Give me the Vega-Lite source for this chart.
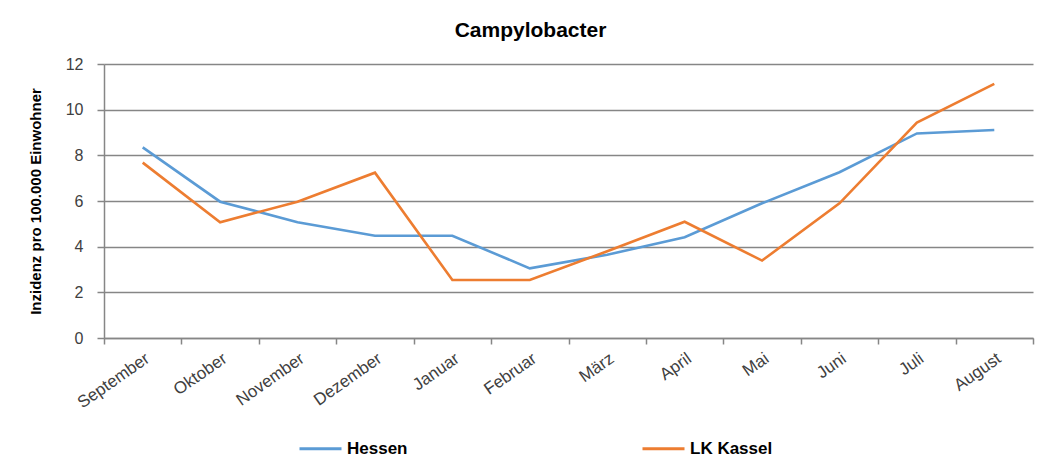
{
  "$schema": "https://vega.github.io/schema/vega-lite/v6.json",
  "width": 929,
  "height": 274,
  "autosize": {"type": "none"},
  "padding": {"left": 104, "top": 64, "right": 17, "bottom": 123},
  "background": "white",
  "title": {
    "text": "Campylobacter",
    "font": "Liberation Sans",
    "fontSize": 21,
    "fontWeight": "bold",
    "color": "#000000",
    "anchor": "middle",
    "dx": -38,
    "offset": 15
  },
  "data": {
    "values": [
      {"Monat": "September", "Region": "Hessen", "Inzidenz": 8.35},
      {"Monat": "Oktober", "Region": "Hessen", "Inzidenz": 5.97},
      {"Monat": "November", "Region": "Hessen", "Inzidenz": 5.07},
      {"Monat": "Dezember", "Region": "Hessen", "Inzidenz": 4.48},
      {"Monat": "Januar", "Region": "Hessen", "Inzidenz": 4.48},
      {"Monat": "Februar", "Region": "Hessen", "Inzidenz": 3.05},
      {"Monat": "März", "Region": "Hessen", "Inzidenz": 3.65},
      {"Monat": "April", "Region": "Hessen", "Inzidenz": 4.41},
      {"Monat": "Mai", "Region": "Hessen", "Inzidenz": 5.9},
      {"Monat": "Juni", "Region": "Hessen", "Inzidenz": 7.26},
      {"Monat": "Juli", "Region": "Hessen", "Inzidenz": 8.96},
      {"Monat": "August", "Region": "Hessen", "Inzidenz": 9.11},
      {"Monat": "September", "Region": "LK Kassel", "Inzidenz": 7.68},
      {"Monat": "Oktober", "Region": "LK Kassel", "Inzidenz": 5.07},
      {"Monat": "November", "Region": "LK Kassel", "Inzidenz": 5.97},
      {"Monat": "Dezember", "Region": "LK Kassel", "Inzidenz": 7.24},
      {"Monat": "Januar", "Region": "LK Kassel", "Inzidenz": 2.54},
      {"Monat": "Februar", "Region": "LK Kassel", "Inzidenz": 2.54},
      {"Monat": "März", "Region": "LK Kassel", "Inzidenz": 3.8},
      {"Monat": "April", "Region": "LK Kassel", "Inzidenz": 5.09},
      {"Monat": "Mai", "Region": "LK Kassel", "Inzidenz": 3.39},
      {"Monat": "Juni", "Region": "LK Kassel", "Inzidenz": 5.9},
      {"Monat": "Juli", "Region": "LK Kassel", "Inzidenz": 9.43},
      {"Monat": "August", "Region": "LK Kassel", "Inzidenz": 11.13}
    ]
  },
  "mark": {"type": "line", "strokeWidth": 2.6},
  "encoding": {
    "x": {
      "field": "Monat",
      "type": "nominal",
      "sort": ["September", "Oktober", "November", "Dezember", "Januar", "Februar", "März", "April", "Mai", "Juni", "Juli", "August"],
      "title": null,
      "axis": {
        "labelAngle": -35,
        "labelAlign": "right",
        "labelBaseline": "top",
        "labelFont": "Liberation Sans",
        "labelFontSize": 17,
        "labelColor": "#404040",
        "labelPadding": 6,
        "tickBand": "extent",
        "tickSize": 6,
        "tickColor": "#868686",
        "domainColor": "#868686",
        "domainWidth": 1.5,
        "tickWidth": 1.5,
        "grid": false
      }
    },
    "y": {
      "field": "Inzidenz",
      "type": "quantitative",
      "scale": {"domain": [0, 12], "nice": false},
      "title": "Inzidenz pro 100.000 Einwohner",
      "axis": {
        "values": [0, 2, 4, 6, 8, 10, 12],
        "format": "d",
        "labelFont": "Liberation Sans",
        "labelFontSize": 16,
        "labelColor": "#404040",
        "labelPadding": 14,
        "tickSize": 7,
        "tickColor": "#868686",
        "tickWidth": 1.5,
        "domainColor": "#868686",
        "domainWidth": 1.5,
        "gridColor": "#868686",
        "gridWidth": 1.5,
        "titleFont": "Liberation Sans",
        "titleFontSize": 15,
        "titleFontWeight": "bold",
        "titleColor": "#000000",
        "titlePadding": 22
      }
    },
    "color": {
      "field": "Region",
      "type": "nominal",
      "scale": {"domain": ["Hessen", "LK Kassel"], "range": ["#5B9BD5", "#ED7D31"]},
      "legend": {
        "title": null,
        "orient": "none",
        "legendX": 194,
        "legendY": 362,
        "direction": "horizontal",
        "symbolType": "stroke",
        "symbolSize": 1764,
        "symbolStrokeWidth": 3,
        "labelFont": "Liberation Sans",
        "labelFontSize": 17,
        "labelFontWeight": "bold",
        "labelColor": "#000000",
        "columnPadding": 228
      }
    }
  },
  "config": {
    "view": {"stroke": null}
  }
}
